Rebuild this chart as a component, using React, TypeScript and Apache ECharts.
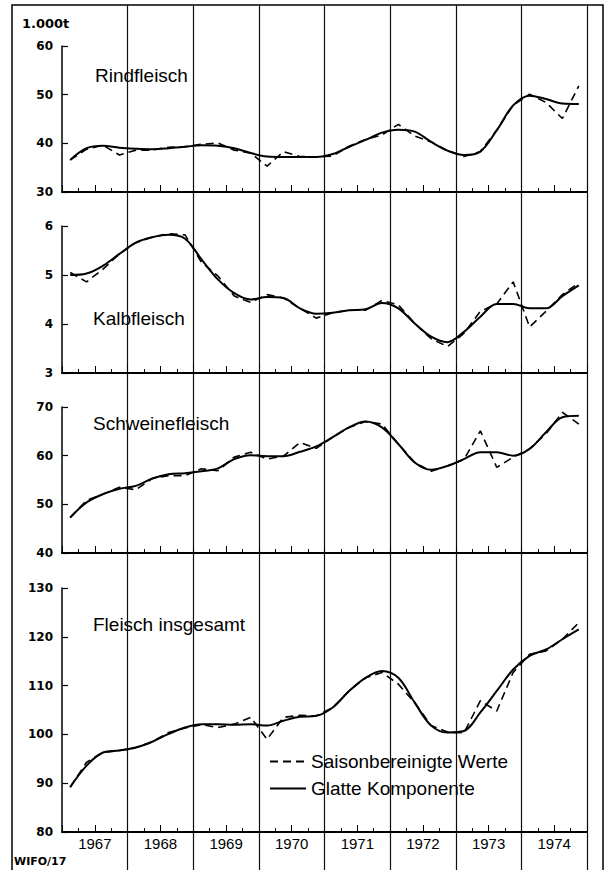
import React, { useEffect, useRef } from "react";
import * as echarts from "echarts";

// Quarterly data 1967 Q1 .. 1974 Q4 (32 quarters)
const years = ["1967", "1968", "1969", "1970", "1971", "1972", "1973", "1974"];
const quartersPerYear = 4;

const rindSmooth = [36.6, 39.0, 39.5, 39.1, 38.9, 38.8, 39.0, 39.3, 39.6, 39.5, 39.0, 38.0, 37.3, 37.2, 37.2, 37.2, 37.8, 39.3, 40.7, 42.2, 42.8, 42.4, 40.3, 38.5, 37.6, 38.3, 42.7, 47.8, 49.8, 49.1, 48.2, 48.1];
const rindSa = [36.6, 38.8, 39.6, 37.6, 38.6, 38.6, 39.2, 39.3, 39.8, 40.1, 38.6, 38.0, 35.3, 38.3, 37.3, 37.2, 37.4, 39.4, 40.8, 41.7, 43.9, 41.5, 40.3, 38.5, 37.3, 38.3, 42.7, 47.8, 50.1, 48.4, 45.1, 51.8];

const kalbSmooth = [5.0, 5.03, 5.19, 5.43, 5.66, 5.77, 5.82, 5.74, 5.32, 4.91, 4.63, 4.5, 4.55, 4.53, 4.32, 4.21, 4.23, 4.28, 4.3, 4.43, 4.32, 4.01, 3.74, 3.63, 3.84, 4.15, 4.41, 4.41, 4.32, 4.32, 4.57, 4.79];
const kalbSa = [5.05, 4.86, 5.12, 5.43, 5.66, 5.77, 5.84, 5.82, 5.26, 4.98, 4.57, 4.44, 4.6, 4.53, 4.32, 4.12, 4.23, 4.28, 4.28, 4.48, 4.39, 4.01, 3.7, 3.54, 3.81, 4.26, 4.41, 4.86, 3.94, 4.26, 4.6, 4.84];

const schweinSmooth = [47.3, 50.4, 52.1, 53.2, 53.8, 55.3, 56.2, 56.4, 56.8, 57.4, 59.3, 60.1, 59.9, 59.9, 60.8, 61.9, 63.8, 65.8, 67.0, 65.8, 62.4, 58.6, 57.1, 57.9, 59.3, 60.7, 60.7, 60.0, 61.4, 64.8, 67.9, 68.2];
const schweinSa = [47.3, 50.8, 52.1, 53.5, 53.0, 55.3, 55.9, 55.9, 57.3, 56.9, 59.7, 60.7, 59.3, 59.9, 62.7, 61.5, 63.8, 65.8, 67.0, 66.5, 62.4, 58.6, 56.8, 57.9, 59.2, 65.1, 57.6, 59.7, 61.4, 64.5, 68.9, 66.5];

const gesamtSmooth = [89.2, 93.6, 96.3, 96.7, 97.3, 98.5, 100.1, 101.4, 102.1, 102.1, 102.0, 102.1, 101.8, 102.8, 103.6, 103.8, 105.5, 108.9, 111.6, 113.0, 111.6, 106.5, 101.8, 100.4, 100.7, 104.5, 108.9, 113.3, 116.1, 117.4, 119.5, 121.5];
const gesamtSa = [89.2, 94.3, 96.3, 96.7, 97.3, 98.5, 100.4, 101.3, 102.0, 101.4, 102.1, 103.5, 99.0, 103.5, 103.9, 103.8, 105.5, 108.9, 111.6, 112.7, 110.3, 106.5, 101.8, 100.5, 100.3, 106.9, 104.8, 112.7, 116.4, 117.1, 119.5, 122.9];

const panelTitles = ["Rindfleisch", "Kalbfleisch", "Schweinefleisch", "Fleisch insgesamt"];
const yRanges = [
  { min: 30, max: 60, interval: 10 },
  { min: 3, max: 6, interval: 1 },
  { min: 40, max: 70, interval: 10 },
  { min: 80, max: 130, interval: 10 },
];
const seriesSa = [rindSa, kalbSa, schweinSa, gesamtSa];
const seriesSmooth = [rindSmooth, kalbSmooth, schweinSmooth, gesamtSmooth];
const nameSa = "Saisonbereinigte Werte";
const nameSmooth = "Glatte Komponente";
const unitLabel = "1.000t";
const sourceLabel = "WIFO/17";

const TEXT = '"Liberation Sans", Arial, sans-serif';
const WIDE = '"DejaVu Sans", "Liberation Sans", sans-serif';

const grids = [
  { left: 62, width: 525, top: 46, height: 146 },
  { left: 62, width: 525, top: 226, height: 147 },
  { left: 62, width: 525, top: 407, height: 146 },
  { left: 62, width: 525, top: 588, height: 244 },
];
const titlePos = [
  { x: 95, y: 75 },
  { x: 93, y: 318 },
  { x: 93, y: 423 },
  { x: 93, y: 624 },
];

const nQ = years.length * quartersPerYear;
const toPoints = (arr: number[]) => arr.map((v, i) => [i + 0.5, v]);

export default function App() {
  const ref = useRef<HTMLDivElement>(null);
  useEffect(() => {
    if (!ref.current) return;
    const chart = echarts.init(ref.current, undefined, { renderer: "svg" });

    const xAxes: any[] = grids.map((_, k) => ({
      type: "value",
      gridIndex: k,
      min: 0,
      max: nQ,
      interval: 2,
      axisLine: { show: true, onZero: false, lineStyle: { color: "#000", width: 2 } },
      axisTick: { show: true, inside: true, length: 7, lineStyle: { color: "#000", width: 1 } },
      minorTick: { show: true, splitNumber: 2, length: 4, lineStyle: { color: "#000", width: 1 } },
      splitLine: { show: false },
      axisLabel: {
        show: k === 3,
        margin: 4,
        fontFamily: TEXT,
        fontSize: 15,
        color: "#000",
        showMinLabel: true,
        showMaxLabel: true,
        formatter: (v: number) => (v % 4 === 2 ? years[(v - 2) / 4] : ""),
      },
    }));
    // full-height year separators
    xAxes.push({
      type: "value",
      gridIndex: 4,
      min: 0,
      max: nQ,
      interval: 4,
      axisLine: { show: false },
      axisTick: { show: false },
      axisLabel: { show: false },
      splitLine: { show: true, showMinLine: false, showMaxLine: true, lineStyle: { color: "#111", width: 1.2 } },
    });

    const yAxes: any[] = grids.map((_, k) => ({
      type: "value",
      gridIndex: k,
      min: yRanges[k].min,
      max: yRanges[k].max,
      interval: yRanges[k].interval,
      axisLine: { show: true, lineStyle: { color: "#000", width: 1.5 } },
      axisTick: { show: true, inside: true, length: 6, lineStyle: { color: "#000", width: 1.2 } },
      splitLine: { show: false },
      axisLabel: { margin: 9, fontFamily: WIDE, fontWeight: "bold", fontSize: 12, color: "#000" },
    }));
    yAxes.push({ type: "value", gridIndex: 4, min: 0, max: 1, show: false });

    const series: any[] = [];
    for (let k = 0; k < 4; k++) {
      series.push({
        name: nameSa,
        type: "line",
        xAxisIndex: k,
        yAxisIndex: k,
        data: toPoints(seriesSa[k]),
        symbol: "none",
        lineStyle: { color: "#000", width: 1.6, type: [8, 5] },
        itemStyle: { color: "#000" },
        z: 3,
      });
      series.push({
        name: nameSmooth,
        type: "line",
        xAxisIndex: k,
        yAxisIndex: k,
        data: toPoints(seriesSmooth[k]),
        symbol: "none",
        smooth: 0.35,
        lineStyle: { color: "#000", width: 2 },
        itemStyle: { color: "#000" },
        z: 4,
      });
    }

    const graphics: any[] = [
      {
        type: "rect",
        shape: { x: 12, y: 5, width: 591, height: 870 },
        style: { fill: "none", stroke: "#000", lineWidth: 1.5 },
        silent: true,
      },
      {
        type: "text",
        x: 22,
        y: 23,
        style: { text: unitLabel, fontFamily: WIDE, fontWeight: "bold", fontSize: 13, fill: "#000", verticalAlign: "middle" },
      },
      {
        type: "text",
        x: 14,
        y: 861,
        style: { text: sourceLabel, fontFamily: WIDE, fontWeight: "bold", fontSize: 11, fill: "#000", verticalAlign: "middle" },
      },
    ];
    panelTitles.forEach((t, k) => {
      graphics.push({
        type: "text",
        x: titlePos[k].x,
        y: titlePos[k].y,
        style: { text: t, fontFamily: TEXT, fontSize: 19, fill: "#000", verticalAlign: "middle" },
      });
    });

    chart.setOption({
      animation: false,
      backgroundColor: "#fff",
      grid: [...grids, { left: 62, width: 525, top: 5, height: 865 }],
      xAxis: xAxes,
      yAxis: yAxes,
      series,
      legend: {
        data: [nameSa, nameSmooth],
        orient: "vertical",
        left: 264,
        top: 746,
        itemWidth: 36,
        itemHeight: 14,
        itemGap: 6,
        selectedMode: false,
        itemStyle: { opacity: 0 },
        textStyle: { fontFamily: TEXT, fontSize: 19, color: "#000", lineHeight: 21 },
      },
      graphic: graphics,
    });
    return () => chart.dispose();
  }, []);
  return (
    <div
      ref={ref}
      style={{ position: "fixed", left: 0, top: 0, width: 608, height: 870, background: "#fff" }}
    />
  );
}
